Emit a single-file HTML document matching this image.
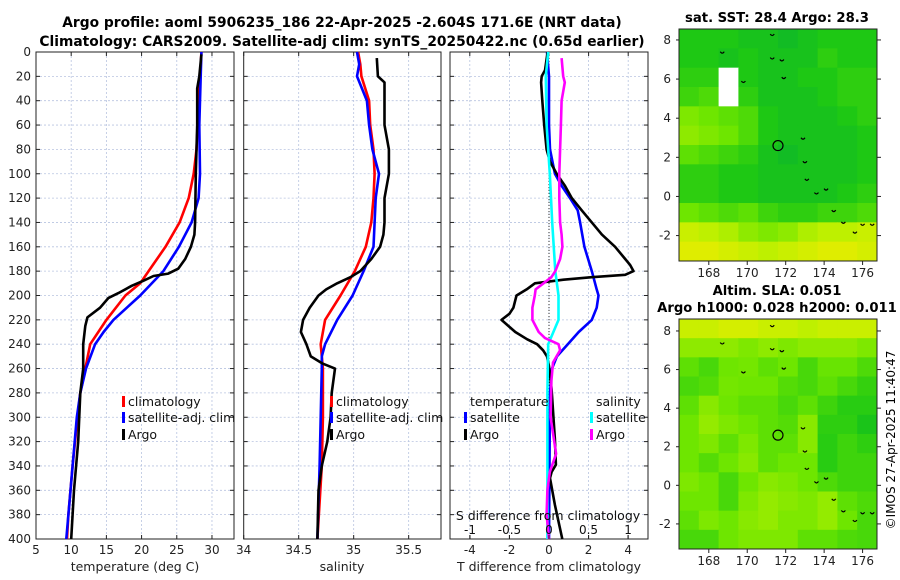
<!DOCTYPE html>
<html><head><meta charset="utf-8">
<style>
body{margin:0;background:#fff;}
svg{display:block;font-family:"DejaVu Sans","Liberation Sans",sans-serif;}
</style></head>
<body>
<svg id="fig" width="900" height="580" viewBox="0 0 900 580">
<text x="342" y="27" font-size="13.8" font-weight="bold" text-anchor="middle">Argo profile: aoml 5906235_186 22-Apr-2025 -2.604S 171.6E (NRT data)</text>
<text x="342" y="46" font-size="13.8" font-weight="bold" text-anchor="middle">Climatology: CARS2009. Satellite-adj clim: synTS_20250422.nc (0.65d earlier)</text>
<text x="777" y="22" font-size="13.2" font-weight="bold" text-anchor="middle">sat. SST: 28.4 Argo: 28.3</text>
<text x="777" y="295" font-size="13.2" font-weight="bold" text-anchor="middle">Altim. SLA: 0.051</text>
<text x="777" y="312" font-size="13.2" font-weight="bold" text-anchor="middle">Argo h1000: 0.028 h2000: 0.011</text>
<text transform="translate(895,440) rotate(-90)" font-size="12" text-anchor="middle">©IMOS 27-Apr-2025 11:40:47</text>
<g id="layer"></g>
</svg>
<script>
// ---- data ----
const depthTicks = [0,20,40,60,80,100,120,140,160,180,200,220,240,260,280,300,320,340,360,380,400];
const tempTicks = [5,10,15,20,25,30];
const salTicks = [34,34.5,35,35.5];
const tdiffTicks = [-4,-2,0,2,4];
const sdiffTicks = [-1,-0.5,0,0.5,1];
const sdiffTickLabels = ['-1','-0.5','0','0.5','1'];

const tClimDepth = [0,80,100,120,140,160,180,190,200,220,240,260,280,300,340,380,400];
const tClimVal   = [28.5,27.8,27.4,26.7,25.4,23.4,21.0,19.8,17.7,15.0,12.7,12.0,11.3,10.9,10.2,9.6,9.4];
const tSatDepth = [0,60,100,120,140,160,180,200,220,230,240,260,280,300,340,380,400];
const tSatVal   = [28.5,28.2,28.3,28.1,27.1,25.3,23.1,19.8,16.0,14.6,13.4,12.1,11.3,10.8,10.2,9.6,9.3];
const tArgoDepth = [2,20,30,60,100,140,150,160,170,178,182,184,188,192,198,202,210,218,225,240,260,280,320,360,400];
const tArgoVal   = [28.5,28.2,27.9,27.9,27.7,27.6,27.5,27.0,26.2,25.2,23.8,21.7,20.2,18.6,16.7,15.3,14.1,12.3,12.0,11.7,11.7,11.3,11.0,10.4,10.0];

const sClimDepth = [0,10,20,40,60,80,100,120,140,160,180,200,220,240,260,300,340,400];
const sClimVal   = [35.04,35.06,35.07,35.14,35.15,35.18,35.19,35.18,35.16,35.11,35.01,34.88,34.74,34.70,34.72,34.72,34.71,34.67];
const sSatDepth = [0,10,20,40,60,80,100,120,140,160,180,200,220,240,250,260,300,340,400];
const sSatVal   = [35.03,35.05,35.03,35.12,35.14,35.17,35.23,35.20,35.19,35.18,35.09,34.99,34.85,34.74,34.71,34.71,34.70,34.69,34.67];
const sArgoDepth = [5,20,25,40,60,80,100,120,140,150,160,170,180,185,190,195,200,210,220,230,240,250,256,260,280,300,320,340,360,400];
const sArgoVal   = [35.21,35.22,35.28,35.28,35.28,35.32,35.32,35.28,35.28,35.27,35.24,35.16,35.06,34.97,34.85,34.75,34.68,34.60,34.54,34.52,34.57,34.61,34.72,34.83,34.80,34.79,34.76,34.71,34.68,34.67];

const dTSatDepth = [0,20,60,80,100,110,120,130,140,160,180,195,200,210,220,230,240,250,260,280,400];
const dTSatVal   = [-0.1,0,0,0.05,0.3,0.64,1.06,1.45,1.57,1.79,2.16,2.41,2.5,2.41,2.16,1.5,0.95,0.4,0.15,0.05,0];
const dTArgoDepth = [0,15,20,25,40,60,80,90,100,110,120,130,140,150,160,170,175,180,183,185,187,190,195,200,210,215,220,230,236,240,245,250,258,277,318,339,345,350,372,400];
const dTArgoVal   = [-0.07,-0.2,-0.37,-0.4,-0.34,-0.24,-0.12,0.05,0.39,0.81,1.15,1.65,2.16,2.67,3.34,3.85,4.1,4.27,3.85,2.16,0.73,-0.71,-1.13,-1.64,-1.8,-2.0,-2.4,-1.7,-1.1,-0.6,-0.3,-0.1,0,0.13,0.3,0.35,0.13,0.05,0.3,0.67];
const dSSatDepth = [0,20,60,100,140,180,200,220,240,280,340,400];
const dSSatVal   = [-0.01,-0.04,-0.03,0.01,0.04,0.08,0.12,0.12,-0.01,-0.02,-0.02,-0.02];
const dSArgoDepth = [5,20,25,40,60,80,100,120,140,150,160,170,180,185,190,195,200,210,220,230,235,240,245,255,270,300,330,345,360,380,400];
const dSArgoVal   = [0.16,0.18,0.2,0.16,0.15,0.14,0.13,0.13,0.14,0.16,0.17,0.14,0.08,0.03,-0.07,-0.17,-0.18,-0.21,-0.21,-0.13,-0.05,0.12,0.14,0.05,0.03,0.02,0.09,0.01,-0.02,-0.03,0];

const lonTicks = [168,170,172,174,176];
const latTicks = [-2,0,2,4,6,8];
const sstGrid = [
[.25,.25,.25,.2,.2,.15,.2,.25,.25,.25],
[.25,.25,.2,.25,.2,.2,.2,.3,.25,.25],
[.3,.3,-1,.25,.2,.2,.25,.25,.3,.3],
[.35,.4,-1,.3,.2,.2,.2,.25,.3,.3],
[.55,.5,.45,.4,.25,.2,.2,.2,.25,.3],
[.6,.55,.5,.4,.25,.2,.2,.2,.2,.25],
[.45,.4,.35,.3,.2,.15,.2,.2,.2,.25],
[.3,.3,.25,.25,.2,.2,.2,.2,.2,.25],
[.3,.3,.25,.25,.2,.2,.2,.2,.25,.3],
[.5,.45,.4,.45,.35,.3,.3,.35,.35,.4],
[.8,.75,.7,.6,.55,.6,.7,.75,.75,.8],
[.9,.9,.85,.8,.75,.8,.85,.9,.9,.85]];
const slaGrid = [
[.8,.8,.85,.85,.8,.8,.75,.8,.8,.8],
[.6,.6,.6,.55,.6,.55,.6,.6,.6,.55],
[.45,.38,.5,.52,.45,.5,.38,.48,.48,.4],
[.38,.42,.52,.5,.5,.42,.38,.45,.38,.32],
[.45,.58,.5,.45,.45,.38,.45,.35,.28,.28],
[.5,.62,.55,.5,.45,.42,.58,.3,.3,.22],
[.5,.55,.45,.55,.45,.45,.58,.28,.35,.3],
[.5,.42,.5,.58,.45,.5,.5,.28,.35,.35],
[.55,.5,.38,.5,.58,.55,.5,.4,.35,.35],
[.5,.5,.38,.55,.62,.58,.55,.62,.45,.4],
[.45,.55,.5,.58,.62,.55,.55,.62,.5,.38],
[.38,.38,.5,.55,.55,.55,.45,.45,.4,.38]];
const argoLon = 171.6, argoLat = 2.6;

// ---- helpers ----
const NS='http://www.w3.org/2000/svg';
const layer=document.getElementById('layer');
function mk(tag,attrs,parent){const e=document.createElementNS(NS,tag);for(const k in attrs)e.setAttribute(k,attrs[k]);(parent||layer).appendChild(e);return e;}
function lin(d0,d1,r0,r1){return v=>r0+(v-d0)*(r1-r0)/(d1-d0);}
const Y0=52,Y1=539;
const yD=lin(0,400,Y0,Y1);

function panel(name,x0,x1,xs,xticks,xlabels,showY){
  const g=mk('g',{});
  
  
  xticks.forEach(t=>{const x=xs(t);if(x>x0+1&&x<x1-1)mk('line',{x1:x,x2:x,y1:Y0,y2:Y1,stroke:'#b8c4e0','stroke-width':0.8,'stroke-dasharray':'2,2'},g);});
  depthTicks.forEach(d=>{const y=yD(d);if(d>0&&d<400)mk('line',{x1:x0,x2:x1,y1:y,y2:y,stroke:'#b8c4e0','stroke-width':0.8,'stroke-dasharray':'2,2'},g);
    mk('line',{x1:x0,x2:x0+4,y1:y,y2:y,stroke:'#222'},g);mk('line',{x1:x1-4,x2:x1,y1:y,y2:y,stroke:'#222'},g);
    if(showY){const t=mk('text',{x:x0-5,y:y+4,'font-size':12,'text-anchor':'end',fill:'#222'},g);t.textContent=d;}});
  xticks.forEach((t,i)=>{const x=xs(t);mk('line',{x1:x,x2:x,y1:Y1,y2:Y1-4,stroke:'#222'},g);mk('line',{x1:x,x2:x,y1:Y0,y2:Y0+4,stroke:'#222'},g);
    if(xlabels){const tx=mk('text',{x:x,y:554,'font-size':12,'text-anchor':'middle',fill:'#222'},g);tx.textContent=xlabels[i];}});
  mk('rect',{x:x0,y:Y0,width:x1-x0,height:Y1-Y0,fill:'none',stroke:'#222','stroke-width':1},g);
  return g;
}
function series(g,name,depths,vals,xs,color){
  let d='';depths.forEach((dp,i)=>{d+=(i?'L':'M')+xs(vals[i]).toFixed(1)+','+yD(dp).toFixed(1);});
  const p=mk('path',{d:d,fill:'none',stroke:color,'stroke-width':2.6,'stroke-linejoin':'round'},g);
  
  
}
function legendEntry(g,name,x,y,color,label){
  const e=mk('g',{},g);
  
  
  mk('rect',{x:x,y:y-10,width:3,height:11,fill:color},e);
  const t=mk('text',{x:x+6,y:y,'font-size':12.5,fill:'#111'},e);t.textContent=label;
}

// ---- panel 1: temperature ----
const xT=lin(5,33.13,36,234);
const p1=panel('temperature-panel',36,234,xT,tempTicks,null,true);
[5,10,15,20,25,30].forEach(t=>{const tx=mk('text',{x:xT(t),y:554,'font-size':12,'text-anchor':'middle',fill:'#222'},p1);tx.textContent=t;});
series(p1,'temp-climatology-line',tClimDepth,tClimVal,xT,'#ff0000');
series(p1,'temp-satellite-line',tSatDepth,tSatVal,xT,'#0000ff');
series(p1,'temp-argo-line',tArgoDepth,tArgoVal,xT,'#000000');
legendEntry(p1,'legend-climatology',122,406,'#ff0000','climatology');
legendEntry(p1,'legend-satellite-adj',122,422,'#0000ff','satellite-adj. clim');
legendEntry(p1,'legend-argo',122,439,'#000000','Argo');
let t1=mk('text',{x:135,y:571,'font-size':12.5,'text-anchor':'middle',fill:'#222'});t1.textContent='temperature (deg C)';


// ---- panel 2: salinity ----
const xS=lin(34,35.794,243.7,441);
const p2=panel('salinity-panel',243.7,441,xS,salTicks,['34','34.5','35','35.5'],false);
series(p2,'sal-climatology-line',sClimDepth,sClimVal,xS,'#ff0000');
series(p2,'sal-satellite-line',sSatDepth,sSatVal,xS,'#0000ff');
series(p2,'sal-argo-line',sArgoDepth,sArgoVal,xS,'#000000');
legendEntry(p2,'legend-climatology-2',330,406,'#ff0000','climatology');
legendEntry(p2,'legend-satellite-adj-2',330,422,'#0000ff','satellite-adj. clim');
legendEntry(p2,'legend-argo-2',330,439,'#000000','Argo');
let t2=mk('text',{x:342,y:571,'font-size':12.5,'text-anchor':'middle',fill:'#222'});t2.textContent='salinity';


// ---- panel 3: differences ----
const xdT=lin(-5,5,450,648);
const xdS=lin(-1.253,1.253,450,648);
const p3=panel('difference-panel',450,648,xdT,tdiffTicks,['-4','-2','0','2','4'],false);
mk('line',{x1:xdT(0),x2:xdT(0),y1:Y0,y2:Y1,stroke:'#333','stroke-width':1,'stroke-dasharray':'1,2'},p3);
series(p3,'tdiff-satellite-line',dTSatDepth,dTSatVal,xdT,'#0000ff');
series(p3,'tdiff-argo-line',dTArgoDepth,dTArgoVal,xdT,'#000000');
series(p3,'sdiff-satellite-line',dSSatDepth,dSSatVal,xdS,'#00ffff');
series(p3,'sdiff-argo-line',dSArgoDepth,dSArgoVal,xdS,'#ff00ff');
let lt=mk('text',{x:470,y:406,'font-size':12.5,fill:'#111'},p3);lt.textContent='temperature';
let ls=mk('text',{x:596,y:406,'font-size':12.5,fill:'#111'},p3);ls.textContent='salinity';
legendEntry(p3,'legend-tdiff-satellite',464,422,'#0000ff','satellite');
legendEntry(p3,'legend-tdiff-argo',464,439,'#000000','Argo');
legendEntry(p3,'legend-sdiff-satellite',590,422,'#00ffff','satellite');
legendEntry(p3,'legend-sdiff-argo',590,439,'#ff00ff','Argo');
let sdt=mk('text',{x:548,y:520,'font-size':12.5,'text-anchor':'middle',fill:'#111'},p3);sdt.textContent='S difference from climatology';

sdiffTicks.forEach((s,i)=>{const tx=mk('text',{x:xdS(s),y:534,'font-size':12,'text-anchor':'middle',fill:'#111'},p3);tx.textContent=sdiffTickLabels[i];
  mk('line',{x1:xdS(s),x2:xdS(s),y1:Y1,y2:Y1-4,stroke:'#222'},p3);});
let t3=mk('text',{x:549,y:571,'font-size':12.5,'text-anchor':'middle',fill:'#222'});t3.textContent='T difference from climatology';


// ---- maps ----
function cmap(v){
  const st=[[0,[0,170,60]],[0.25,[30,200,20]],[0.5,[110,230,0]],[0.75,[190,240,0]],[1,[245,235,0]]];
  for(let i=1;i<st.length;i++){if(v<=st[i][0]){const a=st[i-1],b=st[i];const f=(v-a[0])/(b[0]-a[0]);
    return 'rgb('+a[1].map((c,k)=>Math.round(c+(b[1][k]-c)*f)).join(',')+')';}}
  return 'rgb(245,235,0)';
}
function map(name,grid,x0,x1,y0,y1,latTop,latBot){
  const g=mk('g',{});
  
  
  const lonL=166.45,lonR=176.75;
  const xs=lin(lonL,lonR,x0,x1), ys=lin(latTop,latBot,y0,y1);
  const rows=grid.length, cols=grid[0].length;
  const cw=(x1-x0)/cols, ch=(y1-y0)/rows;
  grid.forEach((row,r)=>row.forEach((v,c)=>{
    const cell=mk('rect',{x:x0+c*cw,y:y0+r*ch,width:cw+0.5,height:ch+0.5,fill:v<0?'#ffffff':cmap(v)},g);
    
    
  }));
  const isl=[[169.8,5.9],[171.3,7.1],[171.8,7.0],[171.9,6.1],[172.9,3.0],[173.0,1.8],[173.1,0.9],[173.6,0.2],[174.1,0.4],[174.5,-0.7],[175.0,-1.3],[175.6,-1.8],[176.0,-1.4],[176.5,-1.4],[168.7,7.4],[171.3,8.3]];
  isl.forEach(p=>mk('path',{d:'M'+(xs(p[0])-2)+','+ys(p[1])+'q2,3 4,0',fill:'none',stroke:'#000','stroke-width':1.2},g));
  const circ=mk('circle',{cx:xs(argoLon),cy:ys(argoLat),r:5,fill:'none',stroke:'#000','stroke-width':1.2},g);
  
  
  mk('rect',{x:x0,y:y0,width:x1-x0,height:y1-y0,fill:'none',stroke:'#222','stroke-width':1},g);
  lonTicks.forEach(l=>{const x=xs(l);mk('line',{x1:x,x2:x,y1:y1,y2:y1+4,stroke:'#222'},g);
    const t=mk('text',{x:x,y:y1+16,'font-size':12,'text-anchor':'middle',fill:'#222'},g);t.textContent=l;});
  latTicks.forEach(l=>{const y=ys(l);mk('line',{x1:x0,x2:x0-3,y1:y,y2:y,stroke:'#222'},g);mk('line',{x1:x1,x2:x1+4,y1:y,y2:y,stroke:'#222'},g);
    const t=mk('text',{x:x0-8,y:y+4,'font-size':12,'text-anchor':'end',fill:'#222'},g);t.textContent=l;});
}
map('sst-map',sstGrid,679,877,29,261,8.56,-3.3);
map('sla-map',slaGrid,679,877,319,549,8.62,-3.3);
</script>
</body></html>
